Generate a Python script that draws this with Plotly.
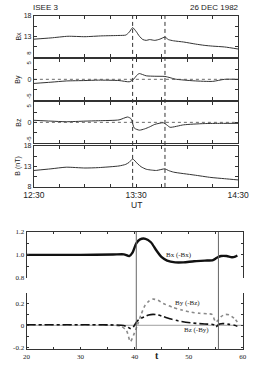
import plotly.graph_objects as go

W, H = 262, 366

# ---------------- top figure data (ISEE 3, 26 DEC 1982) ----------------
bx_ut = ["12:30", "12:40", "12:50", "13:00", "13:10", "13:20", "13:24", "13:26", "13:28", "13:30",
         "13:32", "13:34", "13:36", "13:38", "13:41", "13:44", "13:47", "13:49", "13:52", "13:58",
         "14:05", "14:10", "14:15", "14:22", "14:30"]
bx_val = [12.3, 12.6, 13.0, 12.9, 13.1, 13.2, 13.3, 14.0, 15.1, 14.2,
          13.0, 12.2, 12.0, 12.2, 12.0, 12.3, 12.8, 12.2, 11.9, 11.6,
          11.1, 10.8, 10.6, 10.4, 9.9]

by_ut = ["12:30", "12:40", "12:49", "13:00", "13:08", "13:20", "13:26", "13:28", "13:31", "13:32",
         "13:36", "13:41", "13:47", "13:50", "13:53", "14:04", "14:15", "14:22", "14:30"]
by_val = [-1.0, -0.7, -0.4, -0.3, -0.2, -0.3, -0.6, -0.2, 1.2, 1.4,
          0.85, 0.75, 0.7, 0.4, 0.05, -0.37, -0.5, 0.0, 0.0]

bz_ut = ["12:30", "12:40", "12:49", "13:00", "13:08", "13:20", "13:25", "13:27", "13:29", "13:32",
         "13:35", "13:38", "13:41", "13:46", "13:48", "13:50", "13:58", "14:10", "14:20", "14:30"]
bz_val = [0.5, 0.3, 0.15, 0.3, 0.4, 0.6, 1.3, 0.9, -1.4, -1.9,
          -1.6, -1.1, -0.5, -0.1, -0.6, -1.2, -0.6, -0.3, -0.25, -0.25]

b_ut = ["12:30", "12:40", "12:49", "13:00", "13:08", "13:20", "13:24", "13:26", "13:28", "13:31",
        "13:33", "13:36", "13:39", "13:42", "13:47", "13:49", "13:52", "14:04", "14:14", "14:22", "14:30"]
b_val = [12.0, 12.4, 12.8, 12.6, 12.7, 13.1, 13.5, 14.0, 14.8, 13.6,
         12.9, 12.3, 12.1, 12.0, 12.4, 12.0, 11.6, 10.9, 10.3, 10.0, 9.7]

event_ut = ["13:28", "13:47"]
time_ticks = ["12:30", "13:30", "14:30"]

# ---------------- bottom figure data (simulation) ----------------
t_bx = [20, 30, 36, 38, 39, 39.6, 40.3, 41, 42, 43, 44, 45, 46, 47.5, 49, 51, 53, 54.5,
        55.2, 56, 57, 58, 58.6, 59]
v_bx = [1.0, 1.0, 1.003, 1.005, 0.99, 1.02, 1.10, 1.135, 1.14, 1.11, 1.04, 0.98, 0.95,
        0.935, 0.935, 0.945, 0.95, 0.955, 0.975, 0.99, 0.99, 0.98, 0.985, 0.995]

t_by = [20, 30, 36, 37.5, 38.5, 39.2, 39.8, 40.5, 41.2, 41.9, 42.6, 43.4, 44.3, 45.3, 47, 48.7,
        50.5, 52, 53.5, 54.3, 55, 55.5, 56, 56.8, 57.5, 58, 58.5, 59]
v_by = [0.005, 0.003, 0.0, -0.01, -0.05, -0.15, -0.09, 0.0, 0.1, 0.18, 0.22, 0.24, 0.23, 0.2,
        0.165, 0.14, 0.12, 0.11, 0.105, 0.1, 0.03, 0.05, 0.08, 0.1, 0.095, 0.08, 0.06, 0.03]

t_bz = [20, 30, 36, 37.5, 38.5, 39.2, 39.6, 40.5, 41.2, 41.9, 42.6, 43.4, 44.3, 45.3, 46.5,
        48.1, 50.9, 53, 54.6, 55, 55.7, 56.5, 57.5, 58.5, 59]
v_bz = [0.005, 0.005, 0.003, 0.0, -0.01, -0.03, -0.025, 0.04, 0.065, 0.08, 0.095, 0.1, 0.095,
        0.08, 0.06, 0.04, 0.02, 0.012, 0.005, -0.015, 0.012, 0.015, 0.008, 0.0, -0.01]

sim_events = [40.3, 55.5]
lbl_bx, lbl_by, lbl_bz = "Bx (-Bx)", "By (-Bz)", "Bz (-By)"


def mins(ut):
    return [(int(s[:2]) - 12) * 60 + int(s[3:]) - 30 for s in ut]


def py(p):
    return 1 - p / H


def px(p):
    return p / W


SANS = "Liberation Sans"
SERIF = "Liberation Serif"

fig = go.Figure()

panels = [(bx_ut, bx_val), (by_ut, by_val), (bz_ut, bz_val), (b_ut, b_val)]
for i, (ut, val) in enumerate(panels, start=1):
    fig.add_trace(go.Scatter(x=mins(ut), y=val, mode="lines", line=dict(color="#333", width=1, shape="spline", smoothing=0.6),
                             xaxis=f"x{i}", yaxis=f"y{i}", showlegend=False, hoverinfo="skip"))

fig.add_trace(go.Scatter(x=t_bx, y=v_bx, mode="lines", line=dict(color="#111", width=2.4, shape="spline", smoothing=0.7),
                         xaxis="x5", yaxis="y5", showlegend=False))
fig.add_trace(go.Scatter(x=t_by, y=v_by, mode="lines", line=dict(color="#8a8a8a", width=1.6, dash="dot", shape="spline", smoothing=0.7),
                         xaxis="x6", yaxis="y6", showlegend=False))
fig.add_trace(go.Scatter(x=t_bz, y=v_bz, mode="lines", line=dict(color="#111", width=1.6, dash="dashdot", shape="spline", smoothing=0.7),
                         xaxis="x6", yaxis="y6", showlegend=False))

# ---------- axes ----------
top_dom = [(12, 54), (56, 98), (100, 142), (145, 187)]
xdom_top = [px(25), px(248)]
yranges = [[8, 18], [-5, 5], [-5, 5], [8, 18]]
ytv = [[8, 10.5, 13, 15.5, 18], [-5, -2.5, 0, 2.5, 5], [-5, -2.5, 0, 2.5, 5], [8, 10.5, 13, 15.5, 18]]
ytt = [["", "", "13", "", "18"], ["", "", "0", "", ""], ["", "", "0", "", ""], ["8", "", "13", "", "18"]]

layout = dict(width=W, height=H, margin=dict(l=0, r=0, t=0, b=0), paper_bgcolor="white",
              plot_bgcolor="white", showlegend=False)
tick_ut = list(range(0, 121, 15))
for i in range(1, 5):
    a, b = top_dom[i - 1]
    layout[f"xaxis{i}"] = dict(domain=xdom_top, range=[0, 120], anchor=f"y{i}", showline=True, mirror="ticks",
                               linecolor="#333", linewidth=1, ticks="inside", ticklen=3, tickcolor="#333",
                               tickvals=tick_ut,
                               ticktext=[""] * len(tick_ut) if i < 4 else
                               [time_ticks[tick_ut.index(v) // 4] if v in (0, 60, 120) else "" for v in tick_ut],
                               showgrid=False, zeroline=False,
                               tickfont=dict(family=SANS, size=8.5, color="#222"))
    layout[f"yaxis{i}"] = dict(domain=[py(b), py(a)], range=yranges[i - 1], anchor=f"x{i}", showline=True,
                               mirror="ticks", linecolor="#333", linewidth=1, ticks="inside", ticklen=3,
                               tickcolor="#333", tickvals=ytv[i - 1], ticktext=ytt[i - 1], showgrid=False,
                               zeroline=False, tickfont=dict(family=SANS, size=7, color="#222"))

xdom_bot = [px(17), px(253)]
layout["xaxis5"] = dict(domain=xdom_bot, range=[20, 60], anchor="y5", side="top", showline=True, mirror=False,
                        linecolor="#333", linewidth=1, ticks="inside", ticklen=2, tickcolor="#333",
                        dtick=5, showticklabels=False, showgrid=False, zeroline=False)
layout["yaxis5"] = dict(domain=[py(280), py(233)], range=[0.8, 1.2], anchor="x5", showline=True, mirror="ticks",
                        linecolor="#333", linewidth=1, ticks="inside", ticklen=2, tickcolor="#333",
                        tickvals=[0.8, 0.9, 1.0, 1.1, 1.2], ticktext=["0.8", "", "1.0", "", "1.2"],
                        showgrid=False, zeroline=False, tickfont=dict(family=SERIF, size=7, color="#222"))
layout["xaxis6"] = dict(domain=xdom_bot, range=[20, 60], anchor="y6", showline=True, mirror=False,
                        linecolor="#333", linewidth=1, ticks="inside", ticklen=2, tickcolor="#333",
                        tickvals=[20, 25, 30, 35, 40, 45, 50, 55, 60],
                        ticktext=["20", "", "30", "", "40", "", "50", "", "60"],
                        showgrid=False, zeroline=False, tickfont=dict(family=SERIF, size=7, color="#222"))
layout["yaxis6"] = dict(domain=[py(353), py(295)], range=[-0.22, 0.3], anchor="x6", showline=True, mirror="ticks",
                        linecolor="#333", linewidth=1, ticks="inside", ticklen=2, tickcolor="#333",
                        tickvals=[-0.2, -0.1, 0, 0.1, 0.2], ticktext=["-0.2", "", "0", "", "0.2"],
                        showgrid=False, zeroline=False, tickfont=dict(family=SERIF, size=7, color="#222"))
fig.update_layout(**layout)

# ---------- shapes ----------
for m in mins(event_ut):
    fig.add_shape(type="line", xref="x", yref="paper", x0=m, x1=m, y0=py(187), y1=py(12),
                  line=dict(color="#333", width=1, dash="4px,3px"))
for i in (2, 3):
    fig.add_shape(type="line", xref=f"x{i} domain", yref=f"y{i}", x0=0, x1=1, y0=0, y1=0,
                  line=dict(color="#444", width=0.8, dash="dot"))
for t in sim_events:
    fig.add_shape(type="line", xref="x6", yref="paper", x0=t, x1=t, y0=py(353), y1=py(233),
                  line=dict(color="#666", width=1))
fig.add_shape(type="line", xref="x6 domain", yref="y6", x0=0, x1=1, y0=0, y1=0,
              line=dict(color="#888", width=0.8), layer="below")

# ---------- annotations ----------
ann = []
ann.append(dict(text="ISEE 3", x=px(22), y=py(4), xanchor="left", yanchor="middle", font=dict(family=SANS, size=8, color="#222")))
ann.append(dict(text="26 DEC 1982", x=px(251), y=py(4), xanchor="right", yanchor="middle", font=dict(family=SANS, size=8, color="#222")))
for txt, yy in [("Bx", 33), ("By", 77), ("Bz", 121), ("B (nT)", 166)]:
    ann.append(dict(text=txt, x=px(8), y=py(yy), textangle=-90, xanchor="center", yanchor="middle",
                    font=dict(family=SANS, size=7, color="#222")))
for txt, yy in [("8", 50), ("5", 60), ("-5", 94), ("5", 104), ("-5", 138)]:
    ann.append(dict(text=txt, x=px(19.5), y=py(yy), textangle=-90, xanchor="center", yanchor="middle",
                    font=dict(family=SANS, size=6, color="#222")))
ann.append(dict(text="UT", x=px(137), y=py(205), xanchor="center", yanchor="middle", font=dict(family=SANS, size=8.5, color="#222")))
ann.append(dict(text="<b>t</b>", x=px(159), y=py(359), xanchor="center", yanchor="middle", font=dict(family=SERIF, size=10, color="#222")))
for a in ann:
    a.update(xref="paper", yref="paper", showarrow=False)
    fig.add_annotation(**a)
fig.add_annotation(text=lbl_bx, x=48.2, y=1.0, xref="x5", yref="y5", showarrow=False,
                   font=dict(family=SERIF, size=7, color="#222"))
fig.add_annotation(text=lbl_by, x=49.8, y=0.205, xref="x6", yref="y6", showarrow=False,
                   font=dict(family=SERIF, size=7, color="#222"))
fig.add_annotation(text=lbl_bz, x=51.5, y=-0.045, xref="x6", yref="y6", showarrow=False,
                   font=dict(family=SERIF, size=7, color="#222"))

fig.write_html("out.html")
